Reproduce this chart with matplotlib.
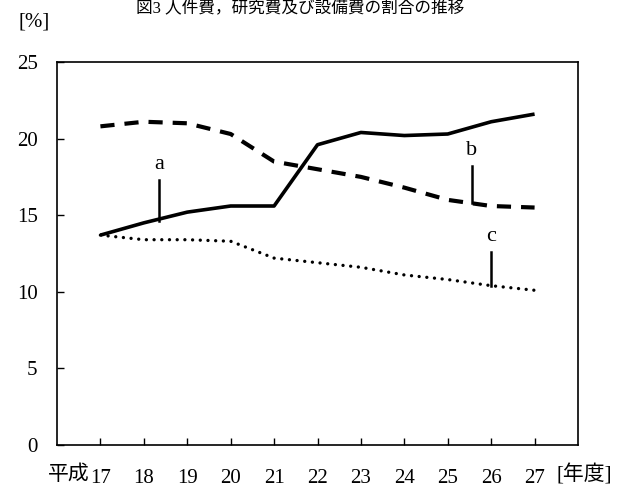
import matplotlib
matplotlib.use("Agg")
import matplotlib.pyplot as plt

plt.rcParams['font.family'] = ['Liberation Serif', 'Noto Sans CJK JP', 'DejaVu Sans']

years = [17, 18, 19, 20, 21, 22, 23, 24, 25, 26, 27]
year_labels = ['17', '18', '19', '20', '21', '22', '23', '24', '25', '26', '27']
a = [13.7, 14.5, 15.2, 15.6, 15.6, 19.6, 20.4, 20.2, 20.3, 21.1, 21.6]
b = [20.8, 21.1, 21.0, 20.3, 18.5, 18.0, 17.5, 16.8, 16.0, 15.6, 15.5]
c = [13.7, 13.4, 13.4, 13.3, 12.2, 11.9, 11.6, 11.1, 10.8, 10.4, 10.1]

fig = plt.figure(figsize=(6.27, 4.92), dpi=100)
ax = fig.add_axes([57/627, 1 - 445/492, (578-57)/627, (445-62)/492])

ax.plot(years, a, color='black', lw=2.6, solid_capstyle='butt')
ax.plot(years, b, color='black', lw=3, linestyle=(0, (3.4, 2.4)))
ax.plot(years, c, color='black', lw=2.4, linestyle=(0, (0.01, 2.3)), dash_capstyle='round')

# series labels with leader lines
for name, x0, y_top, y_bot, y_txt in [('a', 18.35, 17.3, 14.6, 18.3),
                                      ('b', 25.55, 18.2, 15.8, 19.2),
                                      ('c', 26.0, 12.6, 10.4, 13.6)]:
    ax.plot([x0, x0], [y_bot, y_top], color='black', lw=1.8)
    ax.text(x0, y_txt, name, ha='center', va='center', fontsize=16)

ax.set_xlim(16, 28)
ax.set_ylim(0, 25)
ax.set_xticks(years)
ax.set_xticklabels(year_labels, fontsize=15)
ax.set_yticks([0, 5, 10, 15, 20, 25])
ax.set_yticklabels(['0', '5', '10', '15', '20', '25'], fontsize=15)
ax.tick_params(direction='in', length=5, width=1)
ax.tick_params(axis='x', pad=17)
ax.tick_params(axis='y', pad=14)
for s in ax.spines.values():
    s.set_linewidth(1.2)

fig.text(90/627, 1 - 475/492, '平成', fontsize=15, va='center', ha='right')
fig.text(18/627, 1 - 22/492, '[%]', fontsize=15, va='center', ha='left')
fig.text(557/627, 1 - 475/492, '[年度]', fontsize=15, va='center', ha='left')
fig.text(300/627, 1 - 1/492, '図3 人件費，研究費及び設備費の割合の推移', fontsize=12,
         va='top', ha='center')

fig.savefig('out.png', dpi=100)
